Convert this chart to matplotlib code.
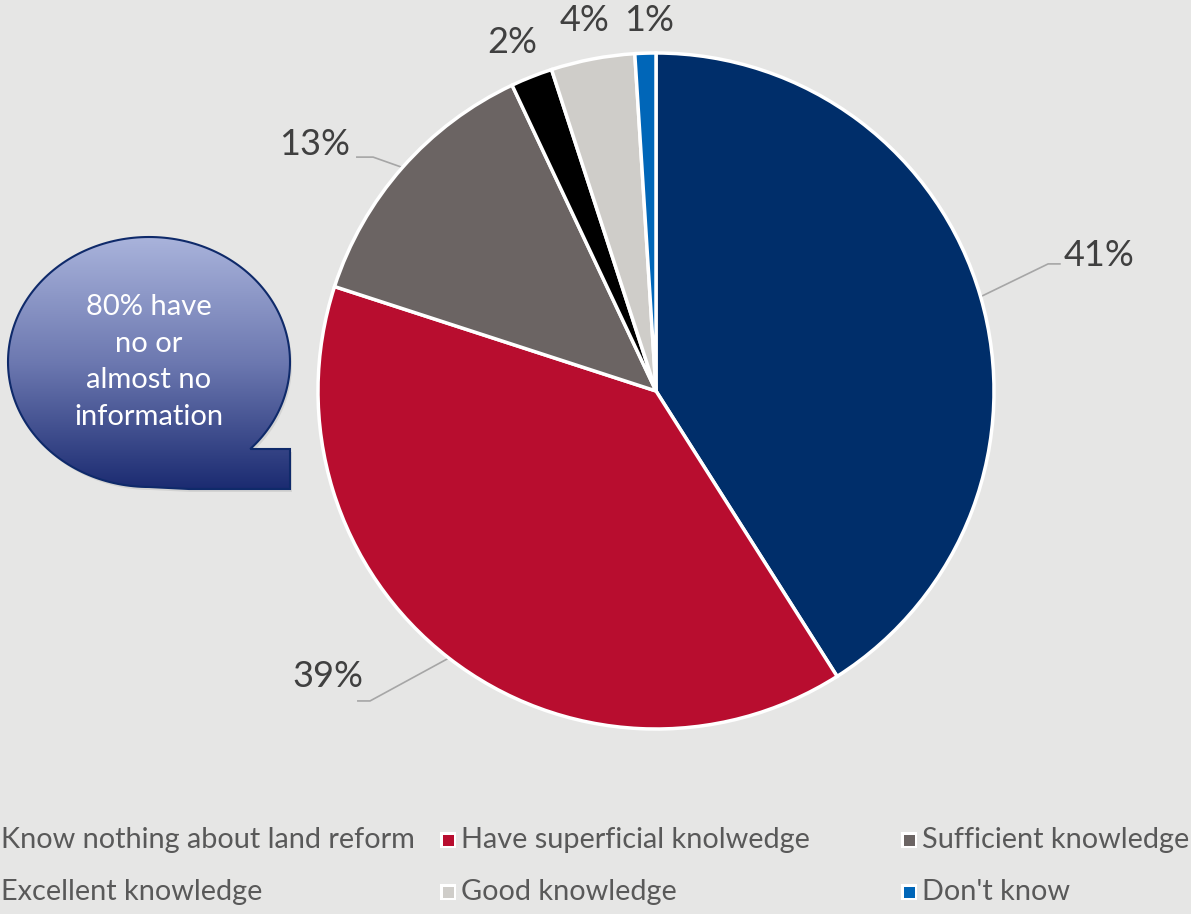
import numpy as np
import matplotlib
matplotlib.use("Agg")
import matplotlib.pyplot as plt
from matplotlib.colors import LinearSegmentedColormap
from matplotlib.patches import PathPatch, Rectangle
from matplotlib.path import Path

# ── data ───────────────────────────────────────────────────
categories = ["Know nothing about land reform", "Have superficial knolwedge",
              "Sufficient knowledge", "Excellent knowledge",
              "Good knowledge", "Don't know"]
shares = [41, 39, 13, 2, 4, 1]
colors = ["#002E6A", "#B80D2F", "#6B6463", "#000000", "#CFCDC9", "#0066B8"]
callout_text = "80% have\nno or\nalmost no\ninformation"

# label placement in pie units (radius = 1): text centre, leader elbow, leader end
label_xy = [(1.31, 0.40), (-0.97, -0.845), (-1.01, 0.73),
            (-0.425, 1.03), (-0.21, 1.095), (-0.02, 1.095)]
leaders = {0: ((1.16, 0.376), (1.195, 0.376)),
           1: ((-0.846, -0.917), (-0.882, -0.917)),
           2: ((-0.837, 0.692), (-0.885, 0.692))}

bg = "#E6E6E5"
W, H = 1191, 914
plt.rcParams["font.family"] = ["Lato", "DejaVu Sans"]

fig = plt.figure(figsize=(W / 100, H / 100), dpi=100, facecolor=bg)

# ── pie ────────────────────────────────────────────────────
cx, cy, R = 656, 391, 338
ax = fig.add_axes([(cx - R) / W, (H - cy - R) / H, 2 * R / W, 2 * R / H])
ax.set_facecolor("none")
wedges, _ = ax.pie(shares, colors=colors, startangle=90, counterclock=False,
                   radius=1, wedgeprops=dict(edgecolor="white", linewidth=2.5))
ax.set_xlim(-1, 1)
ax.set_ylim(-1, 1)
ax.set_aspect("equal")
ax.axis("off")

for i, (w, v) in enumerate(zip(wedges, shares)):
    ax.text(*label_xy[i], f"{v}%", ha="center", va="center", fontsize=26,
            color="#404040", clip_on=False)
    if i in leaders:
        mid = np.deg2rad((w.theta1 + w.theta2) / 2)
        (ex, ey), (tx, ty) = leaders[i]
        ax.plot([np.cos(mid), ex, tx], [np.sin(mid), ey, ty],
                color="#A6A6A6", lw=1.2, clip_on=False, zorder=0)

# ── overlay in pixel coordinates: callout + legend ─────────
ov = fig.add_axes([0, 0, 1, 1], zorder=-1)
ov.set_xlim(0, W)
ov.set_ylim(H, 0)
ov.axis("off")
ov.set_facecolor("none")

# speech bubble: ellipse with a square tail at lower right
ex0, ey0, a, b = 149, 362, 141, 125
tail_y, tail_x, tail_bot = 449, 290, 489
t1 = np.arcsin((tail_y - ey0) / b)
th = np.linspace(np.pi / 2, 2 * np.pi + t1, 200)
xs = ex0 + a * np.cos(th)
ys = ey0 + b * np.sin(th)
verts = list(zip(xs, ys)) + [(tail_x, tail_y), (tail_x, tail_bot),
                             (ex0 + 40, tail_bot), (xs[0], ys[0])]
bubble = Path(verts, closed=True)

shadow = PathPatch(Path(np.array(verts) + [2, 3]), facecolor="#a8a8a8",
                   edgecolor="none", alpha=0.3)
ov.add_patch(shadow)

grad = np.linspace(0, 1, 256).reshape(-1, 1)
cmap = LinearSegmentedColormap.from_list(
    "bubble", ["#AAB4DC", "#6C78B0", "#1A2A70"])
img = ov.imshow(grad, cmap=cmap, aspect="auto",
                extent=(0, 300, tail_bot + 2, ey0 - b - 2), zorder=2)
outline = PathPatch(bubble, facecolor="none", edgecolor="#0F2A6A", lw=1.5,
                    zorder=3)
ov.add_patch(outline)
img.set_clip_path(outline)
ov.text(ex0, ey0, callout_text, ha="center", va="center", fontsize=21,
        color="white", linespacing=1.5, zorder=4)

# legend, three columns, row-major
col_x = [-20, 440, 901]
row_y = [840, 892]
for k, (lab, c) in enumerate(zip(categories, colors)):
    x, y = col_x[k % 3], row_y[k // 3]
    ov.add_patch(Rectangle((x, y - 8), 16, 16, facecolor="white",
                           edgecolor="none", clip_on=False))
    ov.add_patch(Rectangle((x + 2.5, y - 5.5), 11, 11, facecolor=c,
                           edgecolor="none", clip_on=False))
    ov.text(x + 21, y, lab, ha="left", va="center", fontsize=20.8,
            color="#595959")

fig.savefig("out.png", dpi=100, facecolor=bg)
